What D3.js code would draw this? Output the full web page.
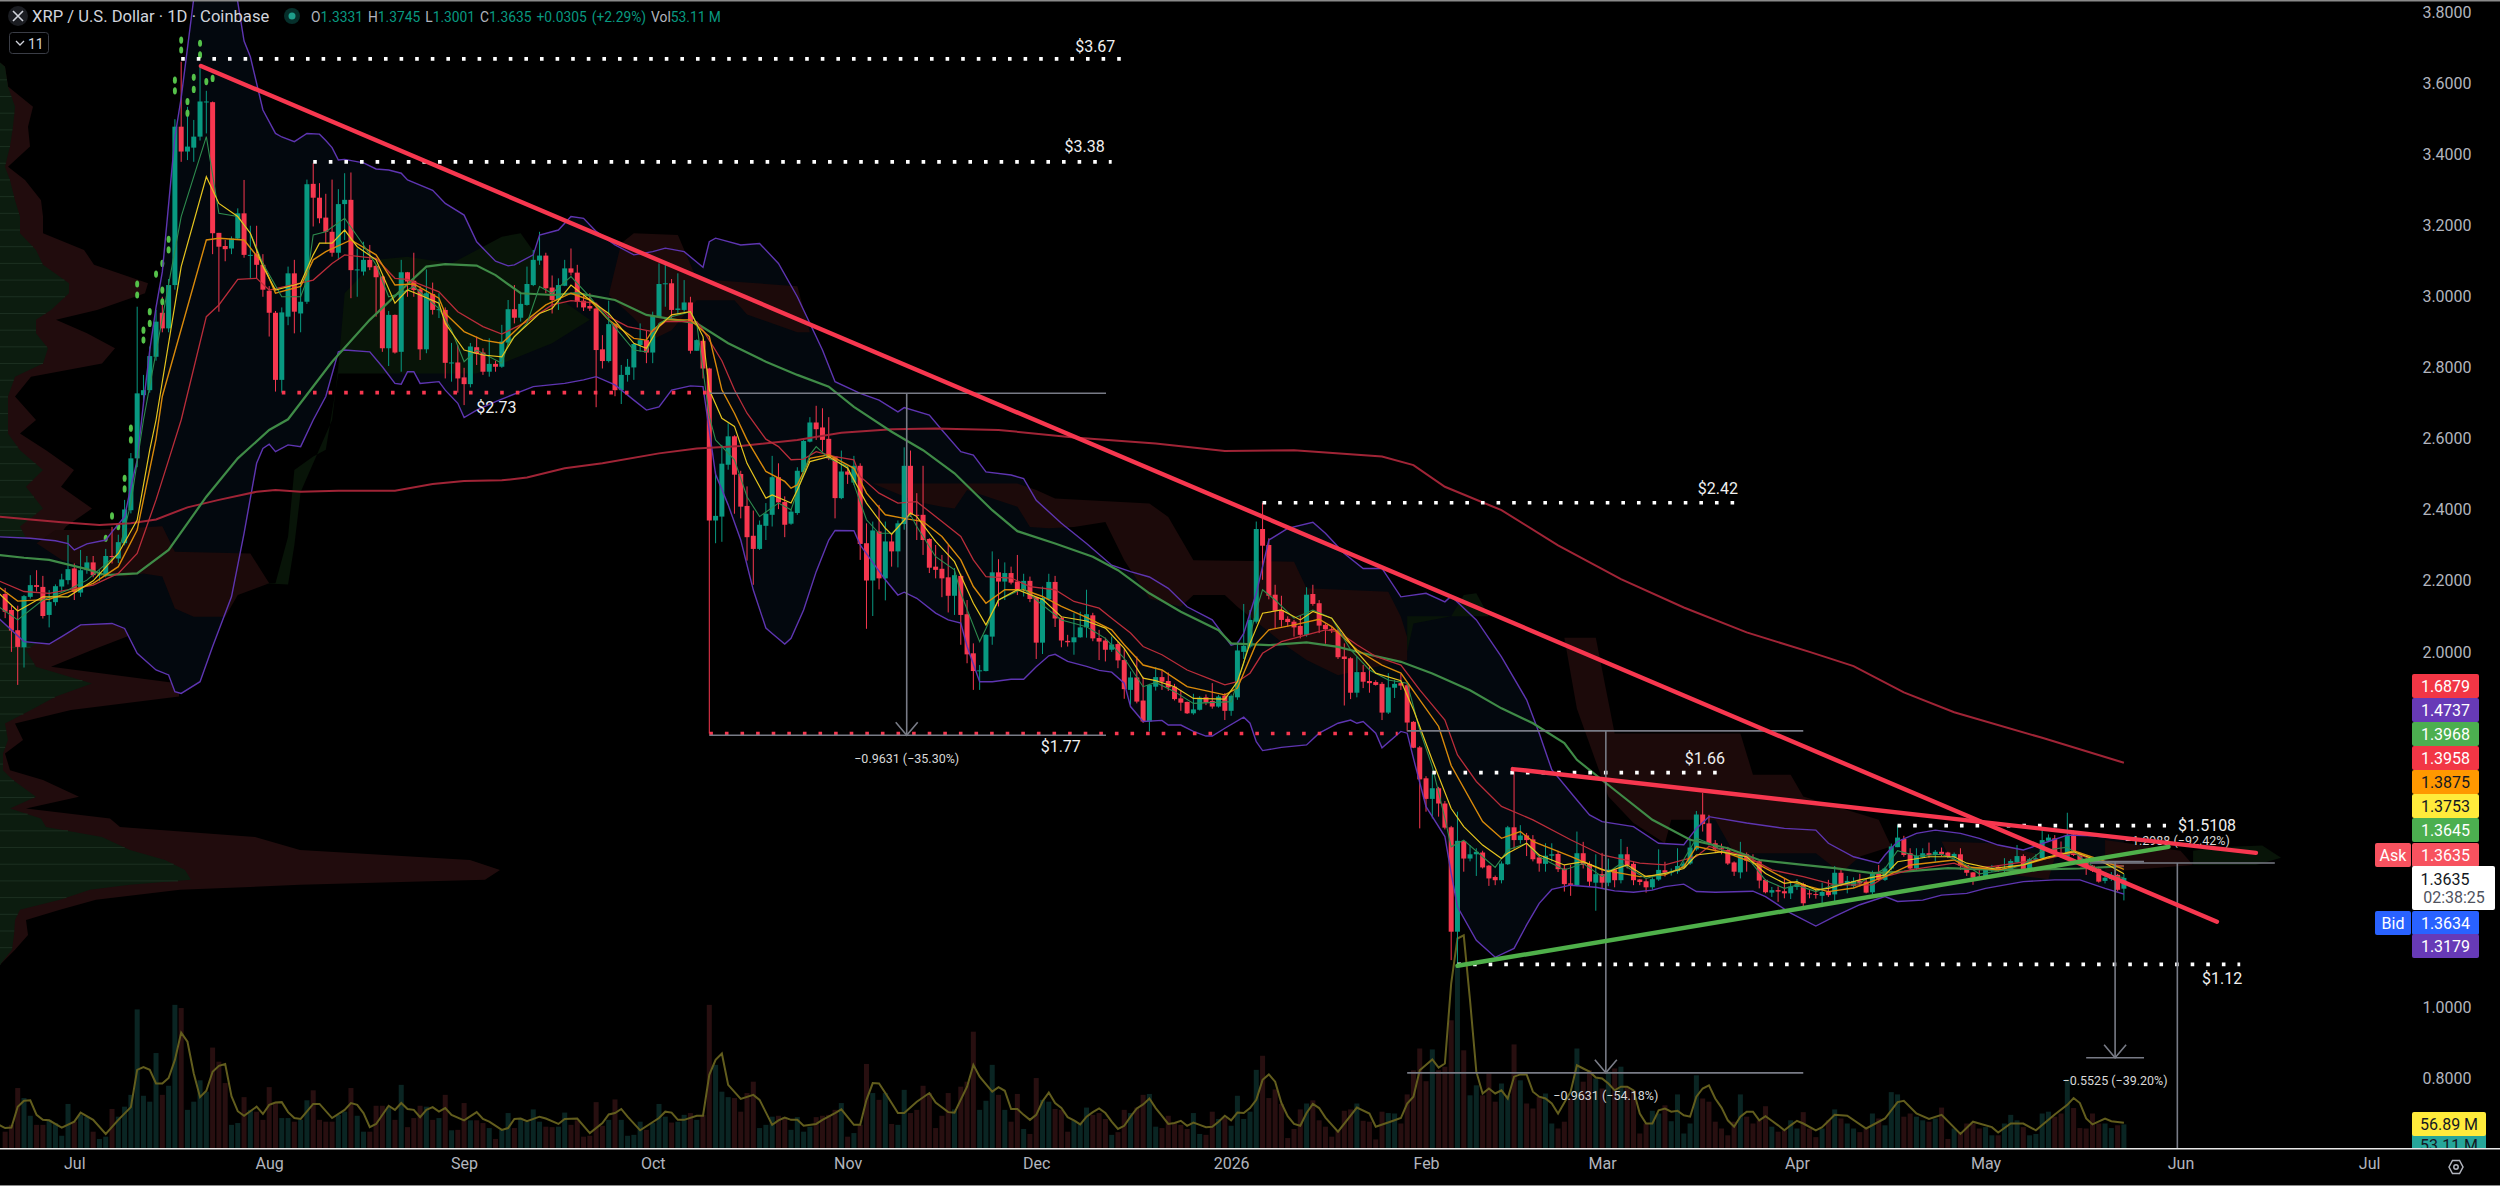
<!DOCTYPE html>
<html>
<head>
<meta charset="utf-8">
<title>XRP / U.S. Dollar 1D</title>
<script src="https://cdn.jsdelivr.net/npm/d3@7"></script>
<style>
html,body{margin:0;padding:0;background:#000;overflow:hidden}
svg{display:block}
text{font-family:Roboto,"Liberation Sans",sans-serif}
</style>
</head>
<body>
<svg id="chart" width="2500" height="1186"></svg>
<script>
// Daily candles, index 0 is 2025-10-10.
const firstIndex = -112;
const opens = [
2.163,2.118,2.061,2.013,2.155,2.188,2.183,2.104,2.14,2.184,
2.202,2.235,2.167,2.230,2.252,2.216,2.216,2.270,2.263,2.306,
2.399,2.545,2.723,2.737,2.831,2.955,2.911,3.033,3.479,3.409,
3.42,3.451,3.55,3.548,3.18,3.143,3.136,3.164,3.235,3.118,
3.12,3.09,3.017,2.955,2.766,2.944,3.066,2.953,2.986,
3.318,3.279,3.223,3.183,3.124,3.261,3.273,3.077,3.071,3.104,
3.087,3.057,2.855,2.949,2.845,3.069,3.045,3.021,2.852,3.008,
2.963,2.963,2.815,2.815,2.773,2.754,2.858,2.843,2.789,2.811,
2.803,2.871,2.965,2.941,2.977,3.033,3.102,3.116,3.026,2.991,
3.031,3.08,3.068,2.989,2.974,2.967,2.852,2.819,2.923,2.737,
2.78,2.801,2.864,2.878,2.843,2.942,3.038,3.038,2.963,2.963,
2.984,2.848,2.876,
2.798,2.370,2.381,2.527,2.607,2.501,2.411,2.327,2.290,2.355,
2.386,2.492,2.422,2.361,2.391,2.506,2.592,2.646,2.632,2.600,
2.550,2.433,2.508,2.477,2.524,2.306,2.201,2.339,2.207,2.311,
2.283,2.360,2.524,2.386,2.386,2.318,2.24,2.234,2.21,2.158,
2.214,2.106,1.996,1.947,1.946,2.043,2.224,2.198,2.222,2.198,
2.174,2.200,2.154,2.026,2.148,2.197,2.096,2.031,2.027,2.041,
2.069,2.103,2.039,2.032,
2.006,2.022,1.977,1.893,1.928,1.863,1.804,1.902,1.929,1.918,
1.902,1.869,1.859,1.827,1.837,1.872,1.862,1.846,1.877,1.834,
1.872,2.0,2.015,2.085,2.346,2.301,2.161,2.118,2.093,2.085,
2.073,2.048,2.163,2.137,2.076,2.064,2.06,1.987,1.982,1.885,
1.943,1.918,1.915,1.91,1.829,1.899,1.912,1.906,1.803,1.731,
1.644,1.586,1.616,1.573,1.506,1.212,1.467,1.418,1.43,1.435,
1.398,1.366,1.357,1.402,1.506,1.47,1.483,1.472,1.421,1.403,
1.426,1.431,1.39,1.348,1.343,1.433,1.403,1.35,1.374,1.35,
1.387,1.357,1.43,1.403,1.359,1.354,1.337,1.359,1.385,1.378,
1.382,1.393,1.404,1.444,1.542,1.517,1.461,1.447,1.442,1.407,
1.379,1.43,1.412,1.41,1.358,1.322,1.329,1.326,1.32,1.338,
1.346,1.32,1.318,1.313,1.325,1.317,1.378,1.344,1.341,1.355,
1.353,1.323,1.375,1.358,1.39,1.45,1.473,1.433,1.39,1.421,
1.433,1.428,1.437,1.435,1.421,1.43,1.40,1.379,1.367,1.364,
1.384,1.395,1.384,1.389,1.407,1.425,1.383,1.412,1.419,1.468,
1.475,1.435,1.423,1.486,1.431,1.414,1.398,1.389,1.355,1.36,
1.372,1.3331];
const highs = [
2.18,2.13,2.13,2.16,2.216,2.23,2.214,2.174,2.19,2.22,
2.329,2.249,2.287,2.27,2.27,2.23,2.29,2.352,2.33,2.428,
2.56,2.972,2.78,2.86,2.963,3.0,3.05,3.50,3.662,3.535,
3.498,3.648,3.58,3.55,3.18,3.16,3.17,3.249,3.329,3.2,
3.2,3.12,3.03,2.96,2.97,3.085,3.104,3.04,3.33,
3.376,3.32,3.29,3.33,3.303,3.348,3.35,3.136,3.155,3.146,
3.09,3.06,2.96,2.95,3.104,3.07,3.124,3.03,3.077,3.04,
3.01,2.97,2.87,2.864,2.8,2.87,2.888,2.855,2.883,2.82,
2.921,2.991,3.033,3.014,3.085,3.132,3.183,3.124,3.06,3.052,
3.104,3.136,3.09,3.01,3.01,2.97,2.892,2.989,2.925,2.808,
2.825,2.87,2.925,2.906,2.958,3.094,3.094,3.05,3.066,3.047,
3.0,2.88,2.88,
2.80,2.508,2.583,2.644,2.61,2.51,2.466,2.398,2.37,2.419,
2.552,2.531,2.438,2.4,2.52,2.6,2.661,2.693,2.686,2.661,
2.55,2.567,2.52,2.552,2.531,2.362,2.367,2.414,2.367,2.332,
2.37,2.576,2.567,2.447,2.524,2.32,2.301,2.273,2.301,2.236,
2.22,2.146,2.024,1.963,2.05,2.283,2.261,2.252,2.24,2.273,
2.22,2.212,2.155,2.184,2.22,2.214,2.1,2.048,2.109,2.113,
2.175,2.11,2.062,2.04,
2.043,2.029,2.01,1.945,1.987,1.93,1.91,1.957,1.947,1.942,
1.91,1.893,1.86,1.882,1.875,1.88,1.912,1.879,1.884,1.88,
2.029,2.135,2.118,2.367,2.42,2.32,2.189,2.158,2.1,2.09,
2.104,2.182,2.189,2.146,2.08,2.07,2.065,2.024,1.985,1.987,
1.963,1.959,1.92,1.915,1.94,1.921,1.938,1.91,1.805,1.735,
1.65,1.658,1.62,1.58,1.51,1.55,1.47,1.456,1.447,1.44,
1.40,1.37,1.41,1.51,1.672,1.512,1.49,1.484,1.43,1.461,
1.461,1.44,1.40,1.40,1.494,1.465,1.41,1.43,1.434,1.418,
1.39,1.473,1.451,1.41,1.36,1.36,1.365,1.444,1.409,1.39,
1.447,1.41,1.475,1.552,1.603,1.541,1.47,1.46,1.451,1.41,
1.465,1.435,1.43,1.415,1.36,1.338,1.34,1.362,1.35,1.36,
1.35,1.332,1.33,1.35,1.358,1.397,1.39,1.369,1.365,1.375,
1.36,1.384,1.40,1.395,1.46,1.513,1.482,1.447,1.447,1.447,
1.463,1.442,1.449,1.437,1.435,1.447,1.40,1.38,1.386,1.39,
1.40,1.40,1.419,1.416,1.456,1.43,1.42,1.43,1.506,1.486,
1.484,1.466,1.547,1.497,1.435,1.42,1.40,1.395,1.37,1.38,
1.375,1.3745];
const lows = [
2.095,2.000,1.907,1.956,2.15,2.17,2.094,2.069,2.13,2.17,
2.19,2.146,2.155,2.22,2.21,2.20,2.21,2.249,2.25,2.30,
2.39,2.52,2.70,2.73,2.82,2.90,2.90,3.02,3.38,3.385,
3.38,3.44,3.46,3.12,2.958,3.10,3.12,3.16,3.11,3.05,
3.05,3.0,2.888,2.733,2.73,2.92,2.897,2.90,2.98,
3.198,3.207,3.15,3.113,3.104,3.16,2.996,3.0,3.06,3.075,
2.944,2.845,2.805,2.84,2.789,3.0,3.0,2.822,2.841,2.95,
2.94,2.77,2.761,2.73,2.695,2.745,2.808,2.78,2.775,2.789,
2.80,2.865,2.925,2.93,2.975,3.03,3.09,3.01,2.953,2.963,
3.03,3.06,2.97,2.96,2.96,2.689,2.798,2.815,2.72,2.698,
2.761,2.766,2.845,2.813,2.813,2.94,2.972,2.939,2.95,2.958,
2.84,2.848,2.770,
1.77,2.306,2.31,2.513,2.389,2.376,2.257,2.189,2.287,2.315,
2.353,2.402,2.323,2.358,2.386,2.5,2.59,2.597,2.564,2.54,
2.376,2.43,2.473,2.47,2.259,2.065,2.101,2.176,2.145,2.24,
2.238,2.344,2.38,2.315,2.273,2.222,2.207,2.154,2.111,2.104,
2.02,1.968,1.893,1.893,1.945,2.02,2.128,2.146,2.19,2.16,
2.156,2.14,1.98,1.994,2.145,2.07,2.013,2.015,1.992,2.04,
2.04,2.03,1.977,1.973,
2.0,1.954,1.868,1.851,1.855,1.80,1.776,1.891,1.893,1.89,
1.863,1.834,1.825,1.823,1.835,1.85,1.84,1.843,1.808,1.82,
1.865,1.98,2.01,2.08,2.203,2.148,2.067,2.071,2.071,2.043,
2.038,2.043,2.13,2.053,2.023,2.053,1.98,1.849,1.867,1.872,
1.898,1.885,1.905,1.808,1.825,1.87,1.893,1.776,1.729,1.503,
1.55,1.531,1.536,1.50,1.132,1.115,1.381,1.41,1.369,1.39,
1.341,1.343,1.348,1.40,1.444,1.46,1.425,1.41,1.381,1.381,
1.41,1.38,1.325,1.313,1.34,1.39,1.339,1.271,1.334,1.34,
1.337,1.348,1.39,1.343,1.343,1.322,1.33,1.355,1.367,1.37,
1.375,1.39,1.40,1.44,1.494,1.455,1.437,1.43,1.40,1.369,
1.362,1.381,1.40,1.334,1.32,1.31,1.296,1.306,1.304,1.33,
1.282,1.306,1.305,1.281,1.31,1.297,1.34,1.32,1.335,1.339,
1.32,1.318,1.355,1.355,1.385,1.45,1.423,1.385,1.385,1.419,
1.42,1.409,1.425,1.419,1.416,1.386,1.369,1.344,1.359,1.36,
1.38,1.38,1.38,1.385,1.405,1.38,1.38,1.41,1.415,1.465,
1.425,1.42,1.42,1.425,1.41,1.372,1.38,1.35,1.348,1.355,
1.325,1.3001];
const closes = [
2.113,2.060,2.014,2.157,2.188,2.183,2.101,2.141,2.185,2.204,
2.233,2.169,2.230,2.252,2.216,2.218,2.270,2.268,2.309,2.401,
2.545,2.728,2.737,2.833,2.930,2.911,3.033,3.479,3.409,3.423,
3.451,3.55,3.55,3.179,3.141,3.134,3.164,3.235,3.118,3.118,
3.09,3.02,2.955,2.766,2.956,3.066,2.958,2.986,3.317,
3.279,3.221,3.183,3.124,3.261,3.273,3.075,3.077,3.104,3.083,
3.055,2.855,2.949,2.843,3.069,3.043,3.019,2.852,3.010,2.963,
2.965,2.814,2.815,2.770,2.754,2.860,2.839,2.789,2.811,2.803,
2.874,2.965,2.941,2.980,3.036,3.104,3.116,3.024,2.991,3.033,
3.080,3.068,2.986,2.970,2.967,2.850,2.819,2.923,2.737,2.780,
2.803,2.867,2.878,2.843,2.946,3.036,3.038,2.963,2.967,2.984,
2.848,2.878,2.798,
2.370,2.383,2.530,2.607,2.499,2.409,2.323,2.290,2.358,2.389,
2.492,2.421,2.358,2.395,2.510,2.594,2.646,2.627,2.597,2.545,
2.433,2.508,2.499,2.524,2.304,2.201,2.342,2.207,2.311,2.283,
2.362,2.524,2.386,2.384,2.315,2.237,2.231,2.207,2.158,2.216,
2.104,1.993,1.946,1.948,2.048,2.224,2.198,2.222,2.195,2.174,
2.200,2.149,2.026,2.152,2.197,2.094,2.032,2.027,2.041,2.069,
2.106,2.038,2.029,2.006,
2.021,1.976,1.895,1.928,1.860,1.804,1.907,1.929,1.916,1.90,
1.867,1.857,1.827,1.838,1.871,1.857,1.846,1.874,1.834,1.876,
2.004,2.017,2.09,2.346,2.299,2.158,2.116,2.09,2.084,2.069,
2.048,2.161,2.135,2.074,2.064,2.062,1.985,1.98,1.885,1.943,
1.916,1.912,1.907,1.829,1.90,1.91,1.905,1.801,1.73,1.641,
1.586,1.616,1.573,1.505,1.212,1.468,1.418,1.43,1.437,1.393,
1.362,1.357,1.404,1.506,1.47,1.483,1.47,1.416,1.404,1.426,
1.43,1.388,1.346,1.344,1.433,1.40,1.353,1.374,1.35,1.387,
1.357,1.43,1.40,1.357,1.352,1.337,1.36,1.386,1.378,1.381,
1.397,1.404,1.449,1.542,1.515,1.459,1.444,1.444,1.404,1.381,
1.43,1.412,1.41,1.356,1.323,1.329,1.325,1.32,1.339,1.346,
1.292,1.318,1.316,1.324,1.315,1.378,1.344,1.355,1.355,1.348,
1.322,1.376,1.358,1.39,1.452,1.477,1.428,1.39,1.425,1.433,
1.428,1.437,1.431,1.423,1.431,1.398,1.378,1.364,1.365,1.386,
1.392,1.383,1.39,1.411,1.425,1.383,1.416,1.419,1.47,1.477,
1.43,1.423,1.484,1.428,1.414,1.395,1.384,1.353,1.364,1.372,
1.33,1.3635];

// Daily traded volume, millions of XRP.
const volumes = [
37,52,133,111,72,52,52,63,56,28,98,59,74,70,37,21,26,87,70,92,
118,306,116,103,210,118,138,316,309,85,103,150,125,222,191,144,52,56,113,85,
81,63,135,101,67,67,59,63,106,128,63,59,59,74,81,133,72,37,37,94,
94,92,63,140,47,67,94,92,63,67,118,40,41,100,62,62,56,45,21,41,
78,45,65,59,86,59,48,47,48,79,52,62,26,28,102,50,63,108,63,28,
30,59,41,56,98,70,57,59,74,78,63,74,
316,184,125,113,111,81,122,147,45,52,70,72,69,41,69,37,48,69,72,74,
85,100,26,34,52,186,122,107,122,54,52,129,78,85,138,122,45,72,122,86,
136,147,257,
85,105,184,118,85,59,120,43,32,155,107,103,87,85,37,62,56,90,74,78,
65,30,36,85,78,90,118,120,48,45,72,56,52,43,78,32,30,81,65,68,
50,116,65,81,173,204,111,130,98,23,43,
86,99,106,62,48,26,40,83,86,99,61,59,20,81,78,77,55,119,172,220,
148,218,172,180,282,399,216,117,139,117,165,103,143,117,229,150,99,88,114,121,
55,44,59,110,220,147,172,154,132,169,176,180,136,128,33,55,83,77,95,60,
119,33,55,161,110,103,59,44,29,59,119,70,55,62,93,48,37,40,62,44,
80,44,25,44,62,86,66,55,44,36,44,77,66,51,124,119,70,77,70,62,
59,66,90,21,44,36,55,55,44,47,29,29,55,74,62,47,29,32,77,81,
70,77,152,89,45,44,77,55,55,45,51,53.11];

// Volume moving average, [day index, millions].
const volumeAverage = [[-113,52],[-112,45],[-111,46],[-110,92],[-109,105],[-108,106],[-107,74],[-106,63],[-105,62],[-103,46],[-101,59],[-100,79],[-98,63],[-96,32],[-94,63],[-92,91],[-91,173],[-90,179],[-89,173],[-88,143],[-87,143],[-86,155],[-85,195],[-84,255],[-83,235],[-82,165],[-81,113],[-80,127],[-79,169],[-78,182],[-77,186],[-76,115],[-75,82],[-74,72],[-72,92],[-71,76],[-70,96],[-69,101],[-68,102],[-67,80],[-66,67],[-65,65],[-63,98],[-62,98],[-60,67],[-58,85],[-57,100],[-56,96],[-55,78],[-54,47],[-53,54],[-51,94],[-50,85],[-49,100],[-48,87],[-47,85],[-46,69],[-45,85],[-44,91],[-43,81],[-42,89],[-41,74],[-39,62],[-37,80],[-36,65],[-35,59],[-33,41],[-32,45],[-31,65],[-30,66],[-29,60],[-27,70],[-26,66],[-24,54],[-23,65],[-21,66],[-19,34],[-17,56],[-16,75],[-15,78],[-14,87],[-13,70],[-11,40],[-8,67],[-7,81],[-6,79],[-5,63],[-4,63],[-2,72],[-1,72],[0,162],[1,195],[2,209],[3,140],[5,109],[7,118],[8,107],[10,52],[11,62],[12,68],[13,63],[14,63],[15,50],[17,54],[18,63],[20,78],[21,86],[23,52],[24,52],[25,107],[26,144],[27,143],[28,122],[30,78],[31,78],[33,103],[35,122],[36,101],[38,80],[39,79],[41,136],[42,184],[43,158],[45,125],[46,135],[47,127],[48,87],[49,87],[50,74],[51,63],[52,74],[53,104],[54,123],[55,100],[56,89],[57,69],[58,62],[59,53],[60,70],[61,80],[62,88],[63,78],[64,59],[65,43],[66,50],[67,70],[68,88],[69,97],[70,110],[71,89],[72,72],[73,54],[74,56],[75,61],[76,50],[77,57],[78,52],[79,47],[80,48],[81,59],[82,72],[83,62],[84,79],[85,78],[86,89],[87,107],[88,151],[89,163],[90,147],[91,100],[92,71],[93,54],[94,50],[95,78],[96,98],[97,89],[98,68],[100,37],[103,90],[105,77],[106,48],[109,62],[110,67],[111,99],[112,114],[113,172],[115,196],[116,178],[117,187],[118,363],[119,462],[120,469],[121,326],[122,169],[123,121],[124,132],[125,121],[126,128],[127,110],[128,158],[129,163],[130,163],[131,125],[132,114],[133,110],[134,99],[135,77],[137,125],[138,183],[139,176],[140,169],[141,156],[142,154],[143,143],[144,128],[145,136],[146,136],[147,128],[148,77],[149,55],[150,55],[151,84],[152,88],[153,81],[154,83],[155,73],[156,70],[157,114],[158,132],[159,139],[160,110],[161,90],[162,62],[163,48],[164,70],[165,81],[166,81],[167,62],[168,71],[169,61],[170,51],[171,40],[172,51],[173,61],[174,55],[176,40],[177,47],[179,74],[181,72],[184,44],[187,66],[189,102],[190,105],[192,77],[194,65],[196,74],[199,32],[201,59],[204,47],[205,35],[207,55],[209,55],[211,40],[214,75],[216,96],[217,111],[218,100],[219,66],[220,53],[222,66],[223,60],[225,56.89]];

// Bollinger bands, [day index, price].
const bandUpper = [[-113,2.324],[-108,2.32],[-104,2.313],[-102,2.305],[-101,2.287],[-99,2.304],[-96,2.315],[-95,2.338],[-93,2.381],[-92,2.465],[-91,2.54],[-90,2.70],[-89,2.85],[-88,2.97],[-87,3.07],[-85,3.45],[-84,3.56],[-83,3.70],[-82,3.84],[-80,3.97],[-78,3.98],[-76,3.90],[-75,3.83],[-74,3.72],[-73,3.676],[-71,3.526],[-69,3.46],[-68,3.45],[-66,3.437],[-64,3.46],[-62,3.458],[-61,3.44],[-60,3.42],[-59,3.385],[-58,3.387],[-55,3.377],[-53,3.36],[-51,3.357],[-49,3.348],[-48,3.329],[-44,3.30],[-42,3.263],[-39,3.23],[-37,3.155],[-34,3.10],[-32,3.087],[-31,3.09],[-28,3.118],[-27,3.174],[-24,3.188],[-22,3.226],[-20,3.221],[-18,3.184],[-15,3.146],[-12,3.118],[-9,3.127],[-7,3.137],[-4,3.127],[-1,3.083],[0,3.155],[1,3.165],[5,3.146],[8,3.15],[11,3.094],[14,3.0],[18,2.85],[20,2.761],[24,2.728],[27,2.709],[30,2.676],[31,2.688],[35,2.667],[37,2.625],[40,2.564],[42,2.554],[44,2.507],[48,2.498],[50,2.488],[52,2.427],[56,2.362],[60,2.305],[64,2.244],[67,2.226],[70,2.211],[73,2.179],[76,2.127],[80,2.09],[83,2.019],[84,2.024],[85,2.052],[87,2.165],[89,2.315],[92,2.348],[96,2.365],[98,2.334],[101,2.277],[104,2.235],[107,2.235],[110,2.155],[114,2.165],[117,2.141],[118,2.157],[122,2.09],[126,1.986],[130,1.865],[132,1.771],[134,1.668],[138,1.583],[140,1.541],[142,1.522],[147,1.508],[151,1.461],[155,1.457],[157,1.503],[159,1.536],[165,1.518],[171,1.503],[176,1.498],[178,1.461],[182,1.423],[186,1.405],[187,1.428],[189,1.466],[192,1.489],[195,1.498],[199,1.489],[202,1.475],[205,1.456],[209,1.442],[213,1.466],[216,1.484],[220,1.482],[225,1.4737]];
const bandLower = [[-113,2.094],[-109,2.029],[-105,2.022],[-103,2.043],[-100,2.076],[-95,2.08],[-93,2.066],[-91,1.996],[-88,1.949],[-86,1.935],[-85,1.888],[-84,1.883],[-81,1.916],[-79,2.015],[-76,2.155],[-74,2.334],[-72,2.531],[-71,2.573],[-70,2.585],[-69,2.564],[-67,2.583],[-65,2.578],[-63,2.653],[-61,2.719],[-59,2.845],[-58,2.85],[-54,2.845],[-52,2.803],[-50,2.756],[-49,2.754],[-48,2.789],[-47,2.789],[-46,2.756],[-43,2.761],[-42,2.737],[-40,2.70],[-39,2.66],[-37,2.681],[-34,2.705],[-32,2.719],[-28,2.747],[-23,2.756],[-20,2.766],[-18,2.775],[-15,2.752],[-12,2.709],[-10,2.681],[-8,2.69],[-6,2.737],[-3,2.749],[-1,2.747],[1,2.5],[3,2.414],[5,2.315],[7,2.174],[9,2.067],[10,2.052],[12,2.022],[13,2.038],[15,2.118],[17,2.226],[19,2.315],[20,2.342],[23,2.341],[24,2.301],[28,2.203],[30,2.16],[31,2.168],[33,2.151],[36,2.109],[38,2.09],[40,2.081],[41,2.015],[43,1.916],[45,1.916],[48,1.923],[50,1.923],[52,1.958],[54,1.989],[55,1.993],[57,1.973],[60,1.959],[62,1.948],[64,1.943],[66,1.912],[67,1.846],[69,1.804],[72,1.807],[73,1.794],[75,1.794],[77,1.776],[79,1.763],[80,1.763],[82,1.785],[85,1.816],[86,1.799],[87,1.747],[88,1.722],[91,1.731],[95,1.738],[97,1.771],[100,1.799],[102,1.808],[103,1.799],[104,1.804],[106,1.771],[107,1.73],[110,1.776],[111,1.771],[112,1.70],[114,1.564],[117,1.48],[118,1.376],[119,1.282],[122,1.188],[125,1.14],[128,1.165],[130,1.231],[132,1.292],[134,1.331],[137,1.343],[141,1.337],[144,1.327],[147,1.323],[150,1.329],[152,1.339],[155,1.346],[157,1.325],[160,1.323],[166,1.326],[168,1.311],[172,1.264],[176,1.228],[179,1.255],[183,1.288],[187,1.311],[189,1.297],[193,1.301],[196,1.315],[200,1.32],[203,1.334],[209,1.353],[214,1.358],[218,1.358],[222,1.334],[225,1.3179]];

// Moving averages, [day index, price].
const ma200 = [[-113,2.381],[-108,2.373],[-103,2.365],[-97,2.357],[-92,2.362],[-88,2.373],[-83,2.407],[-78,2.428],[-72,2.451],[-69,2.456],[-65,2.451],[-59,2.454],[-50,2.454],[-44,2.473],[-39,2.481],[-33,2.483],[-29,2.491],[-23,2.517],[-17,2.531],[-8,2.559],[-2,2.573],[5,2.58],[14,2.597],[21,2.617],[29,2.627],[36,2.629],[46,2.625],[58,2.604],[71,2.587],[82,2.566],[93,2.568],[107,2.55],[112,2.526],[117,2.465],[126,2.399],[135,2.30],[145,2.205],[155,2.125],[165,2.055],[175,2.0],[182,1.96],[190,1.886],[198,1.83],[212,1.758],[225,1.6879]];
const maThick = [[-113,2.273],[-109,2.265],[-105,2.259],[-99,2.233],[-96,2.216],[-91,2.221],[-86,2.287],[-80,2.437],[-75,2.545],[-70,2.625],[-67,2.655],[-60,2.817],[-54,2.935],[-49,3.019],[-45,3.085],[-42,3.092],[-37,3.088],[-34,3.061],[-30,3.01],[-25,3.005],[-21,3.01],[-15,2.991],[-10,2.949],[-2,2.925],[3,2.869],[9,2.817],[14,2.78],[19,2.747],[23,2.69],[29,2.62],[34,2.568],[39,2.503],[45,2.399],[49,2.34],[55,2.305],[61,2.268],[65,2.23],[70,2.165],[75,2.113],[81,2.061],[83,2.024],[89,2.019],[95,2.027],[100,2.014],[104,1.996],[110,1.972],[115,1.939],[121,1.892],[126,1.841],[131,1.799],[136,1.743],[138,1.696],[144,1.611],[150,1.527],[156,1.471],[162,1.447],[167,1.414],[174,1.40],[179,1.391],[185,1.377],[190,1.381],[197,1.391],[205,1.386],[209,1.386],[218,1.39],[225,1.3968]];
const emaRed = [[-113,2.2],[-109,2.17],[-105,2.165],[-98,2.188],[-94,2.221],[-91,2.277],[-88,2.428],[-86,2.54],[-84,2.653],[-80,2.944],[-78,2.977],[-75,3.049],[-72,3.052],[-70,3.019],[-63,3.047],[-60,3.094],[-58,3.118],[-53,3.108],[-50,3.052],[-48,3.049],[-43,3.014],[-40,2.958],[-36,2.916],[-33,2.895],[-29,2.93],[-25,2.977],[-22,2.989],[-18,2.982],[-16,2.944],[-13,2.916],[-9,2.902],[-7,2.93],[-2,2.93],[-1,2.906],[2,2.82],[4,2.738],[6,2.672],[9,2.599],[11,2.578],[13,2.541],[15,2.543],[17,2.564],[20,2.55],[23,2.541],[24,2.494],[27,2.447],[30,2.419],[33,2.423],[37,2.367],[40,2.325],[42,2.259],[44,2.212],[48,2.208],[51,2.184],[55,2.175],[58,2.142],[62,2.123],[64,2.095],[67,2.053],[69,2.015],[72,1.992],[76,1.949],[80,1.921],[82,1.907],[84,1.916],[86,1.94],[88,1.996],[91,2.029],[95,2.048],[98,2.062],[100,2.057],[103,2.02],[106,1.987],[110,1.963],[113,1.893],[117,1.808],[119,1.71],[122,1.635],[126,1.565],[131,1.527],[137,1.471],[142,1.428],[148,1.405],[152,1.40],[157,1.424],[159,1.452],[165,1.424],[169,1.386],[174,1.367],[179,1.344],[185,1.344],[187,1.367],[191,1.386],[198,1.405],[200,1.391],[204,1.395],[213,1.419],[217,1.433],[222,1.405],[225,1.3958]];
const emaOrange = [[-113,2.183],[-110,2.143],[-105,2.148],[-98,2.193],[-94,2.24],[-91,2.343],[-88,2.6],[-87,2.72],[-80,3.16],[-78,3.165],[-74,3.16],[-71,3.094],[-69,3.01],[-65,3.029],[-63,3.104],[-61,3.127],[-57,3.16],[-53,3.118],[-50,3.033],[-47,3.036],[-43,2.996],[-42,2.953],[-39,2.902],[-36,2.878],[-33,2.869],[-29,2.935],[-26,2.977],[-22,3.01],[-19,2.991],[-16,2.935],[-12,2.883],[-10,2.878],[-9,2.906],[-7,2.935],[-3,2.935],[0,2.888],[2,2.738],[4,2.672],[6,2.597],[9,2.508],[12,2.48],[13,2.461],[14,2.47],[16,2.545],[19,2.555],[23,2.517],[25,2.447],[28,2.386],[31,2.376],[34,2.367],[37,2.325],[40,2.259],[42,2.184],[44,2.137],[47,2.175],[50,2.175],[53,2.156],[56,2.128],[60,2.097],[64,2.062],[66,2.02],[69,1.963],[72,1.949],[76,1.902],[82,1.879],[84,1.898],[87,2.024],[89,2.062],[93,2.076],[97,2.092],[99,2.071],[103,2.006],[107,1.963],[110,1.94],[113,1.865],[116,1.79],[118,1.68],[123,1.522],[126,1.475],[129,1.494],[131,1.466],[137,1.424],[142,1.386],[148,1.367],[152,1.372],[155,1.395],[157,1.452],[162,1.433],[167,1.40],[172,1.353],[178,1.325],[182,1.335],[187,1.367],[191,1.40],[198,1.414],[200,1.395],[205,1.386],[209,1.40],[217,1.44],[222,1.41],[225,1.3875]];
const emaYellow = [[-113,2.165],[-110,2.115],[-106,2.155],[-102,2.155],[-98,2.2],[-94,2.277],[-91,2.371],[-89,2.569],[-88,2.653],[-84,3.085],[-80,3.338],[-78,3.263],[-75,3.226],[-73,3.179],[-71,3.085],[-69,3.019],[-65,3.038],[-63,3.118],[-62,3.151],[-60,3.151],[-58,3.188],[-56,3.141],[-53,3.104],[-50,2.982],[-48,3.019],[-46,3.005],[-43,2.982],[-42,2.925],[-39,2.85],[-36,2.836],[-33,2.831],[-31,2.888],[-27,2.953],[-25,2.967],[-22,3.033],[-19,2.991],[-16,2.953],[-12,2.869],[-10,2.855],[-8,2.916],[-6,2.949],[-3,2.958],[-1,2.888],[0,2.738],[2,2.658],[4,2.635],[6,2.531],[9,2.433],[10,2.442],[13,2.419],[14,2.456],[16,2.536],[19,2.55],[22,2.517],[25,2.419],[28,2.348],[29,2.331],[32,2.391],[33,2.381],[36,2.311],[39,2.254],[42,2.137],[44,2.076],[46,2.146],[49,2.175],[53,2.148],[56,2.099],[60,2.087],[63,2.067],[66,2.01],[69,1.926],[71,1.919],[74,1.902],[77,1.869],[82,1.867],[84,1.916],[86,2.024],[88,2.109],[91,2.118],[94,2.09],[96,2.114],[99,2.095],[103,2.0],[106,1.94],[110,1.919],[112,1.837],[115,1.695],[118,1.559],[120,1.508],[123,1.456],[126,1.418],[127,1.433],[130,1.461],[132,1.428],[136,1.40],[139,1.409],[143,1.381],[146,1.40],[149,1.367],[152,1.376],[155,1.39],[157,1.428],[161,1.437],[165,1.423],[168,1.376],[171,1.348],[173,1.353],[176,1.33],[178,1.334],[183,1.358],[187,1.372],[189,1.409],[194,1.423],[198,1.423],[200,1.405],[204,1.39],[209,1.40],[213,1.423],[217,1.437],[222,1.405],[225,1.3753]];
const emaGreen = [[-113,2.127],[-110,2.09],[-106,2.146],[-102,2.174],[-99,2.202],[-94,2.277],[-92,2.418],[-90,2.653],[-84,3.226],[-80,3.451],[-78,3.235],[-75,3.226],[-73,3.179],[-71,3.094],[-68,3.0],[-65,3.0],[-64,3.047],[-63,3.174],[-61,3.183],[-58,3.221],[-55,3.146],[-53,3.09],[-51,3.0],[-49,3.01],[-47,3.029],[-43,2.967],[-41,2.906],[-39,2.817],[-37,2.85],[-33,2.813],[-32,2.869],[-29,2.925],[-27,3.029],[-25,3.01],[-22,3.057],[-19,3.0],[-16,2.935],[-12,2.85],[-10,2.845],[-8,2.925],[-6,2.944],[-3,2.958],[-2,2.925],[0,2.663],[1,2.597],[4,2.541],[6,2.437],[8,2.381],[11,2.419],[13,2.4],[16,2.555],[17,2.578],[19,2.545],[22,2.522],[25,2.372],[27,2.334],[29,2.334],[32,2.386],[33,2.353],[36,2.268],[39,2.231],[40,2.165],[43,2.029],[44,2.066],[46,2.146],[50,2.179],[52,2.146],[56,2.09],[60,2.071],[63,2.038],[66,1.982],[69,1.902],[71,1.914],[74,1.888],[77,1.855],[83,1.86],[85,1.968],[87,2.118],[88,2.175],[90,2.146],[93,2.095],[96,2.118],[99,2.095],[102,2.006],[105,1.949],[108,1.921],[111,1.912],[113,1.78],[115,1.677],[117,1.531],[118,1.451],[120,1.47],[123,1.423],[125,1.393],[127,1.442],[130,1.461],[132,1.423],[136,1.386],[139,1.404],[142,1.367],[145,1.404],[149,1.362],[151,1.372],[154,1.386],[157,1.475],[159,1.461],[162,1.433],[165,1.423],[168,1.357],[171,1.334],[173,1.343],[176,1.325],[179,1.345],[183,1.35],[187,1.39],[189,1.44],[192,1.425],[196,1.43],[199,1.41],[202,1.375],[206,1.385],[209,1.40],[212,1.44],[216,1.45],[219,1.41],[222,1.37],[225,1.3645]];

// Cloud outlines, [day index, price].
const cloudsRed = [
[[-107,2.306],[-104,2.343],[-98,2.343],[-87,2.354],[-85,2.282],[-73,2.277],[-70,2.193],[-75,2.16],[-77,2.099],[-82,2.099],[-85,2.122],[-87,2.212],[-90,2.221],[-93,2.212],[-103,2.259]],
[[-16,3.005],[-14,3.151],[-12,3.179],[-5,3.174],[-2,3.05],[14,3.03],[16,2.9],[14,2.9],[6,2.95],[4,2.99],[-2,2.99],[-6,2.906],[-9,2.88],[-12,2.94]],
[[26,2.474],[49,2.474],[52,2.456],[55,2.432],[70,2.418],[73,2.38],[77,2.258],[93,2.254],[95,2.179],[108,2.169],[110,2.099],[111,2.042],[111,1.977],[100,1.934],[95,1.977],[92,2.014],[84,2.127],[82,2.16],[77,2.16],[75,2.127],[70,2.15],[66,2.258],[63,2.366],[58,2.352],[54,2.348],[51,2.352],[49,2.409],[41,2.456],[39,2.404],[37,2.409],[33,2.423]],
[[136,2.04],[141,2.04],[144,1.77],[164,1.77],[166,1.654],[172,1.654],[174,1.593],[186,1.527],[188,1.452],[183,1.424],[180,1.377],[176,1.433],[163,1.433],[160,1.527],[153,1.527],[152,1.461],[147,1.518],[143,1.593],[138,1.84]],
[[196,1.466],[204,1.461],[209,1.44],[214,1.42],[213,1.36],[208,1.37],[203,1.39],[197,1.43]],
[[222,1.47],[234,1.44],[236,1.40],[222,1.38]]];
const cloudsGreen = [
[[-60,2.653],[-59,2.803],[-58,3.01],[-53,3.104],[-48,3.113],[-41,3.094],[-38,3.122],[-33,3.169],[-30,3.179],[-27,3.104],[-25,3.01],[-19,2.935],[-25,2.869],[-37,2.784],[-59,2.784],[-61,2.569],[-63,2.55],[-66,2.512],[-67,2.324],[-69,2.193],[-71,2.193],[-67,2.19],[-66,2.3],[-65,2.45]],
[[111,2.0],[112,2.08],[118,2.1],[120,2.16],[122,2.165],[124,2.1],[111,2.1]],
[[236,1.44],[240,1.45],[247,1.455],[250,1.42],[246,1.40],[236,1.40]]];

// Left-hand volume profile: price level and bar lengths.
const profilePrices = [3.66,3.648,3.592,3.535,3.479,3.423,3.366,3.329,3.272,3.226,3.179,3.132,3.09,3.038,3.01,2.963,2.935,2.897,2.855,2.812,2.775,2.719,2.653,2.615,2.568,2.512,2.465,2.404,2.353,2.296,2.249,2.212,2.155,2.099,2.066,2.005,1.958,1.911,1.874,1.836,1.798,1.752,1.714,1.667,1.639,1.592,1.559,1.531,1.507,1.479,1.442,1.414,1.386,1.358,1.344,1.33,1.302,1.274,1.245,1.203,1.161,1.119];
const profileTotal = [0,5,8,33,28,30,8,25,41,43,43,84,94,148,145,97,56,87,115,102,31,15,36,20,46,74,61,92,66,51,66,133,117,153,148,92,51,179,179,71,15,23,5,10,43,79,26,110,120,255,300,470,500,485,300,180,96,60,26,28,15,0];
const profileBuy = [0,5,8,15,13,10,5,10,15,20,20,36,43,69,69,51,36,36,48,43,15,8,8,8,20,43,26,43,20,31,36,46,66,61,61,26,36,92,56,31,5,8,3,3,13,36,10,41,46,102,130,165,185,191,130,90,60,20,15,14,12,0];

// Bull signal dots above the July run-up: day index and price.
const signalDays = [-84,-84,-81,-81,-85,-85,-82,-82,-80,-79,-83,-83,-86,-86,-87,-88,-87,-87,-91,-91,-89,-89,-90,-90,-92,-92,-93,-93,-95,-94,-96];
const signalPrices = [3.723,3.695,3.714,3.681,3.61,3.58,3.618,3.584,3.606,3.615,3.55,3.517,3.162,3.132,3.094,3.064,3.019,2.986,3.036,3.005,2.958,2.925,2.906,2.878,2.63,2.597,2.489,2.459,2.383,2.353,2.32];

// Horizontal levels.
const levelPrices = [3.67,3.38,2.73,1.77,2.42,1.66,1.5108,1.12];
const levelFrom = [-84,-63,-68,0,88,115,189,119];
const levelTo = [66,64,0,109.5,163.6,162,231.7,243.5];
const levelText = ["$3.67","$3.38","$2.73","$1.77","$2.42","$1.66","$1.5108","$1.12"];
const levelIsRed = [false,false,true,true,false,false,false,false];
const levelTextOffset = [[-29,-12],[-27,-15],[-213,15],[-337,13],[-20,-14],[-23,-14],[41,0],[-18,14]];

// Trend lines as [[day, price],[day, price]].
const trendRed = [[[-80.85,3.65],[239.8,1.24]],[[127.8,1.67],[246,1.434]]];
const trendGreen = [[119,1.116],[232.1,1.451]];

// Measured moves.
const measureTop = [2.7285,1.7776,1.4094,1.4053];
const measureChange = [0.9631,0.9631,0.5525,1.2988];
const measureFrom = [0,111,219,219.6];
const measureTo = [63.1,174,228.2,249];
const measureAt = [31.4,142.6,223.6,233.5];
const measureText = ["\u22120.9631 (\u221235.30%)","\u22120.9631 (\u221254.18%)","\u22120.5525 (\u221239.20%)","\u22121.2988 (\u221292.42%)"];

// Axis tick labels.
const priceTicks = [3.8,3.6,3.4,3.2,3.0,2.8,2.6,2.4,2.2,2.0,1.0,0.8];
const monthTicks = ["2025-07-01","2025-08-01","2025-09-01","2025-10-01","2025-11-01","2025-12-01","2026-01-01","2026-02-01","2026-03-01","2026-04-01","2026-05-01","2026-06-01","2026-07-01"];
const monthLabels = ["Jul","Aug","Sep","Oct","Nov","Dec","2026","Feb","Mar","Apr","May","Jun","Jul"];

// Last-value tags on the price axis.
const tagValues = [1.6879,1.4737,1.3968,1.3958,1.3875,1.3753,1.3645,1.3635];
const tagColors = ["#f23645","#673ab7","#4caf50","#f23645","#ff9800","#ffeb3b","#4caf50","#f7525f"];

const UP = "#089981", DOWN = "#f7374f";
const W = 2500, H = 1186, paneBottom = 1148.5, axisLeft = 2412;

const svg = d3.select("#chart");
const dayOf = i => new Date(Date.UTC(2025, 9, 10) + i * 864e5);
const x = d3.scaleUtc().domain([dayOf(0), dayOf(225)]).range([709.3, 2123.9]);
const X = i => x(dayOf(i));
const y = d3.scaleLinear().domain([0.8, 3.8]).range([1078, 12.7]);
const yVol = d3.scaleLinear().domain([0, 500]).range([paneBottom, paneBottom - 500 / 2.2]);
const xProfile = d3.scaleLinear().domain([0, 500]).range([0, 500]);

svg.append("rect").attr("width", W).attr("height", H).attr("fill", "#000");
svg.append("defs").append("clipPath").attr("id", "pane")
  .append("rect").attr("width", axisLeft).attr("height", paneBottom);
const pane = svg.append("g").attr("clip-path", "url(#pane)");

const path = d3.line().x(d => X(d[0])).y(d => y(d[1]));

// Volume profile
const profile = profilePrices.map((p, k) => ({p, total: profileTotal[k], buy: profileBuy[k]}));
const profileArea = key => d3.area().y(d => y(d.p)).x0(0).x1(d => xProfile(d[key]))(profile);
pane.append("path").attr("d", profileArea("total")).attr("fill", "#210c0d");
pane.append("path").attr("d", profileArea("buy")).attr("fill", "#0c1c0f");
const buyAt = d3.scaleLinear().domain(profilePrices.slice().reverse()).range(profileBuy.slice().reverse());
pane.append("g").selectAll("line").data(d3.range(1.12, 3.62, 0.047)).join("line")
  .attr("x1", 0).attr("x2", d => buyAt(d)).attr("y1", d => y(d)).attr("y2", d => y(d))
  .attr("stroke", "#1c3021").attr("stroke-width", 1);

// Bollinger band fill, then the clouds
pane.append("path")
  .attr("d", path(bandUpper.concat(bandLower.slice().reverse())) + "Z")
  .attr("fill", "#03080e");
pane.append("g").selectAll("path").data(cloudsRed).join("path")
  .attr("d", d => path(d) + "Z").attr("fill", "#1c0a0a");
pane.append("g").selectAll("path").data(cloudsGreen).join("path")
  .attr("d", d => path(d) + "Z").attr("fill", "#081408");

// Volume bars and average
const candles = opens.map((o, k) => ({i: firstIndex + k, o, h: highs[k], l: lows[k], c: closes[k], v: volumes[k]}));
pane.append("g").selectAll("rect").data(candles).join("rect")
  .attr("x", d => X(d.i) - 2.5).attr("width", 5)
  .attr("y", d => yVol(d.v)).attr("height", d => yVol(0) - yVol(d.v))
  .attr("fill", d => d.c >= d.o ? "#0a2523" : "#280f10");
pane.append("path")
  .attr("d", d3.line().x(d => X(d[0])).y(d => yVol(d[1]))(volumeAverage))
  .attr("fill", "none").attr("stroke", "#625d1d").attr("stroke-width", 2);

// Candles
const candle = pane.append("g").selectAll("g").data(candles).join("g");
candle.append("line")
  .attr("x1", d => X(d.i)).attr("x2", d => X(d.i))
  .attr("y1", d => y(d.h)).attr("y2", d => y(d.l))
  .attr("stroke", d => d.c >= d.o ? UP : DOWN).attr("stroke-width", 1);
candle.append("rect")
  .attr("x", d => X(d.i) - 2.5).attr("width", 5)
  .attr("y", d => y(Math.max(d.o, d.c)))
  .attr("height", d => Math.max(1, Math.abs(y(d.o) - y(d.c))))
  .attr("fill", d => d.c >= d.o ? UP : DOWN);

// Signal dots
pane.append("g").selectAll("ellipse").data(signalDays).join("ellipse")
  .attr("cx", d => X(d)).attr("cy", (d, k) => y(signalPrices[k]))
  .attr("rx", 2).attr("ry", 3.6).attr("fill", "#55c24a");

// Indicator lines
const series = [
  [bandUpper, "#5e35b1", 1.4],
  [bandLower, "#5e35b1", 1.4],
  [ma200, "#a02436", 2],
  [maThick, "#3f8b47", 2.2],
  [emaRed, "#b92d3a", 1.3],
  [emaOrange, "#d98a0b", 1.4],
  [emaGreen, "#2e8b4e", 1.1],
  [emaYellow, "#e6c51f", 1.2]
];
pane.append("g").selectAll("path").data(series).join("path")
  .attr("d", d => path(d[0])).attr("fill", "none")
  .attr("stroke", d => d[1]).attr("stroke-width", d => d[2]);

// Horizontal levels
pane.append("g").selectAll("line").data(levelPrices).join("line")
  .attr("x1", (d, k) => X(levelFrom[k])).attr("x2", (d, k) => X(levelTo[k]))
  .attr("y1", d => y(d)).attr("y2", d => y(d))
  .attr("stroke", (d, k) => levelIsRed[k] ? "#f7374f" : "#fff")
  .attr("stroke-width", 3.6).attr("stroke-dasharray", "3.6 12");
pane.append("g").selectAll("text").data(levelText).join("text")
  .attr("x", (d, k) => X(levelTo[k]) + levelTextOffset[k][0])
  .attr("y", (d, k) => y(levelPrices[k]) + levelTextOffset[k][1])
  .attr("text-anchor", "middle").attr("dominant-baseline", "central")
  .attr("fill", "#f0f0f0").attr("font-size", 16).text(d => d);

// Measured moves
const grey = "#787b86";
const measures = pane.append("g").selectAll("g").data(measureTop).join("g")
  .attr("stroke", grey).attr("stroke-width", 1.6).attr("fill", "none");
measures.append("line")
  .attr("x1", (d, k) => X(measureFrom[k])).attr("x2", (d, k) => X(measureTo[k]))
  .attr("y1", d => y(d)).attr("y2", d => y(d));
measures.append("line")
  .attr("x1", (d, k) => X(measureFrom[k])).attr("x2", (d, k) => X(measureTo[k]))
  .attr("y1", (d, k) => y(d - measureChange[k])).attr("y2", (d, k) => y(d - measureChange[k]));
measures.append("line")
  .attr("x1", (d, k) => X(measureAt[k])).attr("x2", (d, k) => X(measureAt[k]))
  .attr("y1", d => y(d)).attr("y2", (d, k) => y(d - measureChange[k]));
measures.append("path")
  .attr("d", (d, k) => {
    const ax = X(measureAt[k]), ay = y(d - measureChange[k]);
    return `M${ax - 11},${ay - 13}L${ax},${ay}L${ax + 11},${ay - 13}`;
  });
pane.append("g").selectAll("text").data(measureText).join("text")
  .attr("x", (d, k) => X(measureAt[k]))
  .attr("y", (d, k) => k === 3 ? y(measureTop[k]) - 23 : y(measureTop[k] - measureChange[k]) + 23)
  .attr("text-anchor", "middle").attr("dominant-baseline", "central")
  .attr("fill", "#d8d8d8").attr("font-size", 12.5).text(d => d);

// Trend lines
pane.append("g").selectAll("path").data(trendRed).join("path")
  .attr("d", d => path(d)).attr("fill", "none")
  .attr("stroke", "#f7374f").attr("stroke-width", 4.4).attr("stroke-linecap", "round");
pane.append("path").attr("d", path(trendGreen)).attr("fill", "none")
  .attr("stroke", "#4fb04a").attr("stroke-width", 4.4).attr("stroke-linecap", "round");

// Pane borders
svg.append("rect").attr("width", W).attr("height", 1.5).attr("fill", "#8a8a8a");
svg.append("rect").attr("y", paneBottom - 0.5).attr("width", W).attr("height", 1.5).attr("fill", "#e8e8e8");
svg.append("rect").attr("y", 1185).attr("width", W).attr("height", 1).attr("fill", "#8a8a8a");

// Axes
const axisY = d3.axisRight(y).tickValues(priceTicks).tickFormat(d3.format(".4f")).tickSize(0).tickPadding(0);
const gy = svg.append("g").attr("transform", "translate(2447,0)").call(axisY);
gy.select(".domain").remove();
gy.selectAll("text").attr("text-anchor", "middle").attr("fill", "#b2b5be").attr("font-size", 16);

const axisX = d3.axisBottom(x)
  .tickValues(monthTicks.map(d => new Date(d + "T00:00:00Z")))
  .tickFormat((d, k) => monthLabels[k]).tickSize(0).tickPadding(0);
const gx = svg.append("g").attr("transform", "translate(0,1158)").call(axisX);
gx.select(".domain").remove();
gx.selectAll("text").attr("fill", "#b2b5be").attr("font-size", 16);

// Value tags on the price axis
const tagLayout = [686, 710, 734, 758, 782, 806, 830, 855];
const tags = svg.append("g").selectAll("g").data(tagValues).join("g")
  .attr("transform", (d, k) => `translate(${axisLeft},${tagLayout[k] - 12})`);
tags.append("rect").attr("width", 67).attr("height", 24).attr("rx", 2)
  .attr("fill", (d, k) => tagColors[k]);
tags.append("text").attr("x", 33.5).attr("y", 12.5)
  .attr("text-anchor", "middle").attr("dominant-baseline", "central")
  .attr("font-size", 16)
  .attr("fill", (d, k) => k === 4 || k === 5 ? "#131722" : "#fff")
  .text(d => d3.format(".4f")(d));

// Ask tag
const sideTag = (label, cy, color) => {
  svg.append("rect").attr("x", 2375).attr("y", cy - 12).attr("width", 36).attr("height", 24).attr("rx", 2).attr("fill", color);
  svg.append("text").attr("x", 2393).attr("y", cy + 0.5).attr("text-anchor", "middle").attr("dominant-baseline", "central")
    .attr("font-size", 16).attr("fill", "#fff").text(label);
};
sideTag("Ask", 855, "#f7525f");

// Current price box
svg.append("rect").attr("x", axisLeft).attr("y", 866).attr("width", 83).attr("height", 44).attr("rx", 2).attr("fill", "#fff");
svg.append("text").attr("x", 2445).attr("y", 879).attr("text-anchor", "middle").attr("dominant-baseline", "central")
  .attr("font-size", 16).attr("fill", "#131722").text("1.3635");
svg.append("text").attr("x", 2454).attr("y", 897).attr("text-anchor", "middle").attr("dominant-baseline", "central")
  .attr("font-size", 16).attr("fill", "#50535e").text("02:38:25");

// Bid and lower band tags
sideTag("Bid", 923, "#2962ff");
const lowerTags = [[923, "#2962ff", "1.3634"], [946, "#673ab7", "1.3179"]];
lowerTags.forEach(t => {
  svg.append("rect").attr("x", axisLeft).attr("y", t[0] - 12).attr("width", 67).attr("height", 24).attr("rx", 2).attr("fill", t[1]);
  svg.append("text").attr("x", 2445.5).attr("y", t[0] + 0.5).attr("text-anchor", "middle").attr("dominant-baseline", "central")
    .attr("font-size", 16).attr("fill", "#fff").text(t[2]);
});

// Volume tags; the lower one is cut by the pane edge
svg.append("defs").append("clipPath").attr("id", "volTags")
  .append("rect").attr("x", axisLeft).attr("y", 1100).attr("width", 80).attr("height", 48);
const volTags = svg.append("g").attr("clip-path", "url(#volTags)");
[[1145, "#26a69a", "53.11 M", "#131722"], [1124, "#ffeb3b", "56.89 M", "#131722"]].forEach(t => {
  volTags.append("rect").attr("x", axisLeft).attr("y", t[0] - 12).attr("width", 74).attr("height", 24).attr("rx", 2).attr("fill", t[1]);
  volTags.append("text").attr("x", 2449).attr("y", t[0] + 0.5).attr("text-anchor", "middle").attr("dominant-baseline", "central")
    .attr("font-size", 16).attr("fill", t[3]).text(t[2]);
});

// Settings glyph in the axis corner
const gear = svg.append("g").attr("transform", "translate(2456,1167)").attr("fill", "none").attr("stroke", "#b2b5be").attr("stroke-width", 1.5);
gear.append("path").attr("d", "M-7,0L-3.5,-6.5L3.5,-6.5L7,0L3.5,6.5L-3.5,6.5Z");
gear.append("circle").attr("r", 2.2);

// Legend
const legend = svg.append("g");
legend.append("circle").attr("cx", 18).attr("cy", 16).attr("r", 10).attr("fill", "#1b1d22");
legend.append("path").attr("d", "M13,11L23,21M23,11L13,21").attr("stroke", "#d1d4dc").attr("stroke-width", 1.6);
legend.append("text").attr("x", 32).attr("y", 16.5).attr("dominant-baseline", "central")
  .attr("font-size", 16.6).attr("fill", "#d1d4dc").text("XRP / U.S. Dollar \u00b7 1D \u00b7 Coinbase");
legend.append("circle").attr("cx", 292).attr("cy", 16).attr("r", 8).attr("fill", "#062f2b");
legend.append("circle").attr("cx", 292).attr("cy", 16).attr("r", 3.5).attr("fill", "#1e9e8c");

const ohlc = [["O", "1.3331"], ["H", "1.3745"], ["L", "1.3001"], ["C", "1.3635"], ["", "+0.0305"], ["", "(+2.29%)"], ["Vol", "53.11 M"]];
const ohlcText = legend.append("text").attr("x", 311).attr("y", 16.5).attr("dominant-baseline", "central")
  .attr("font-size", 13.8);
ohlc.forEach((d, k) => {
  const first = legend.select("text:last-of-type");
  if (d[0]) ohlcText.append("tspan").attr("fill", "#b2b5be").attr("dx", k ? 5 : 0).text(d[0]);
  ohlcText.append("tspan").attr("fill", "#089981").attr("dx", d[0] ? 0 : 5).text(d[1]);
});

const fold = legend.append("g").attr("transform", "translate(9,32)");
fold.append("rect").attr("x", 0.5).attr("y", 0.5).attr("width", 39).attr("height", 21).attr("rx", 3)
  .attr("fill", "#000").attr("stroke", "#3a3d46");
fold.append("path").attr("d", "M7,9L11,13L15,9").attr("fill", "none").attr("stroke", "#d1d4dc").attr("stroke-width", 1.3);
fold.append("text").attr("x", 19).attr("y", 11.5).attr("dominant-baseline", "central")
  .attr("font-size", 14).attr("fill", "#d1d4dc").text("11");
</script>
</body>
</html>
